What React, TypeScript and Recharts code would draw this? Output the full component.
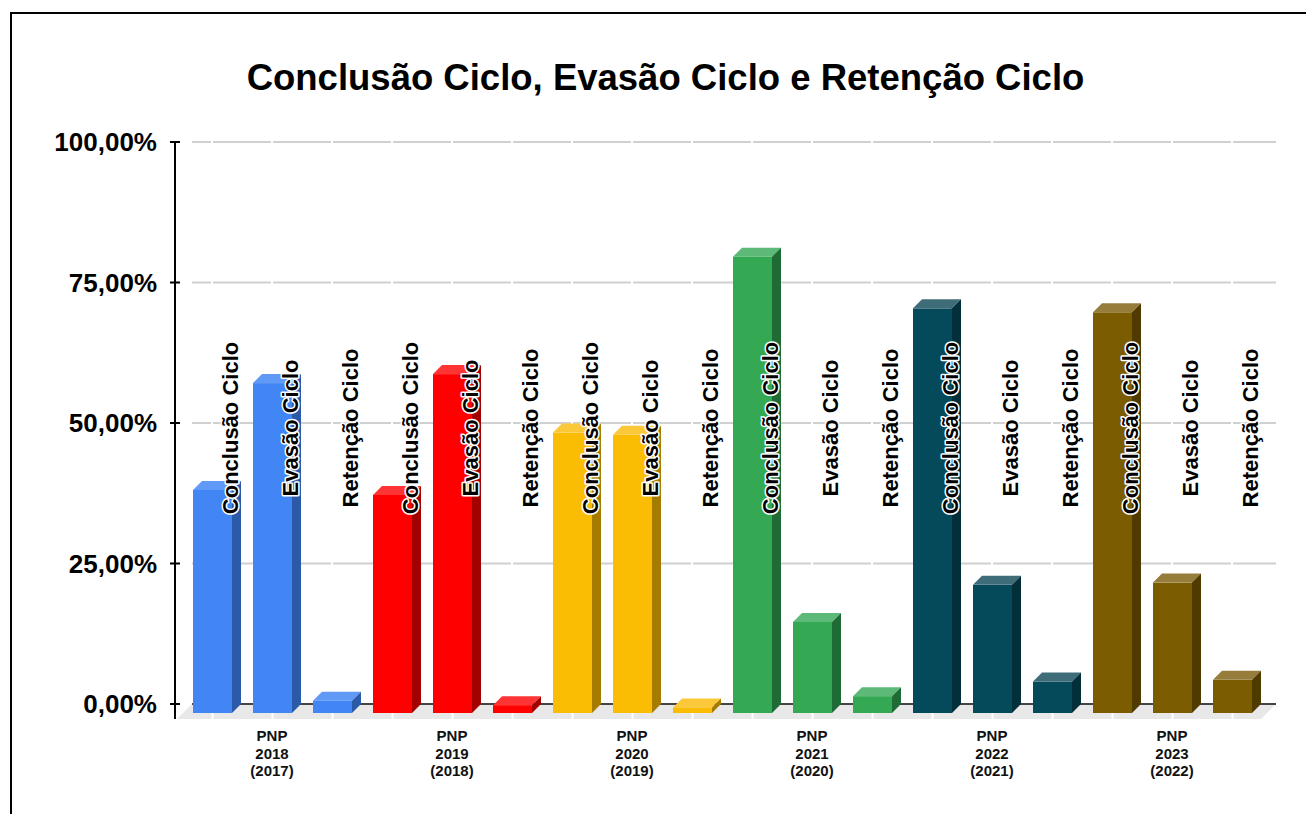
import { BarChart, Bar, XAxis, YAxis, CartesianGrid } from 'recharts'

const CATEGORIES = [
  'PNP\n2018\n(2017)',
  'PNP\n2019\n(2018)',
  'PNP\n2020\n(2019)',
  'PNP\n2021\n(2020)',
  'PNP\n2022\n(2021)',
  'PNP\n2023\n(2022)',
]
const CONCLUSAO = [39.7, 38.8, 49.9, 81.2, 72.0, 71.3]
const EVASAO = [58.7, 60.3, 49.5, 16.2, 22.8, 23.2]
const RETENCAO = [2.2, 1.4, 1.0, 3.0, 5.6, 5.9]
const Y_TICKS = [0, 25, 50, 75, 100]

// one colour per year group: front, side, top
const FRONT = ['#4285F4', '#FF0000', '#FBBC04', '#34A853', '#054A5A', '#7B5C00']
const SIDE = ['#2A5AA8', '#A30000', '#A67C00', '#1E6B35', '#032F3A', '#4F3B00']
const TOP = ['#6199F6', '#FF3535', '#FBC83A', '#5CB977', '#3F6C79', '#967D3B']

const FONT = '"Liberation Sans", Arial, sans-serif'
const W = 1306
const H = 814
const PLOT_LEFT = 175
const PLOT_TOP = 142
const PLOT_RIGHT = 1276
const PLOT_BOTTOM = 704
const DEPTH = 9

const data = CATEGORIES.map((name, i) => ({
  name,
  conclusao: CONCLUSAO[i],
  evasao: EVASAO[i],
  retencao: RETENCAO[i],
}))

function Bar3D(props: any) {
  const { x, y, width: w, height: h, index, label } = props
  if (x == null || y == null) return null
  const d = DEPTH
  const top = `${x},${y + d} ${x + d},${y} ${x + w + d},${y} ${x + w},${y + d}`
  const side = `${x + w},${y + d} ${x + w + d},${y} ${x + w + d},${y + h} ${x + w},${y + h + d}`
  const lx = x + w + 6
  const ly = (PLOT_TOP + PLOT_BOTTOM) / 2 + 5
  return (
    <g>
      <line x1={x + w / 2} x2={x + w / 2} y1={y + h + d} y2={y + h + d + 6} stroke="#fff" strokeWidth={2} />
      <rect x={x} y={y + d} width={w} height={h} fill={FRONT[index]} />
      <polygon points={top} fill={TOP[index]} />
      <polygon points={side} fill={SIDE[index]} />
      <text
        transform={`translate(${lx},${ly}) rotate(-90)`}
        textAnchor="middle"
        fontFamily={FONT}
        fontWeight="bold"
        fontSize={22}
        fill="#000"
        stroke="#fff"
        strokeWidth={3}
        strokeLinejoin="round"
        paintOrder="stroke"
      >
        {label}
      </text>
    </g>
  )
}

function GridLine(props: any) {
  const { y1, index } = props
  if (Math.abs(y1 - PLOT_BOTTOM) < 1) {
    return (
      <g key={`g-${index}`}>
        <polygon
          points={`${192},${y1} ${PLOT_RIGHT},${y1} ${PLOT_RIGHT - 15},${y1 + 15} ${177},${y1 + 15}`}
          fill="#e8e8e8"
        />
        <line x1={192} x2={PLOT_RIGHT} y1={y1} y2={y1} stroke="#444" strokeWidth={2} />
      </g>
    )
  }
  return (
    <line
      key={`g-${index}`}
      x1={192}
      x2={PLOT_RIGHT}
      y1={y1}
      y2={y1}
      stroke="#d0d0d0"
      strokeWidth={2}
      strokeDasharray="58 2"
      strokeDashoffset={39}
    />
  )
}

function YTick(props: any) {
  const { y, payload } = props
  return (
    <g>
      <line x1={PLOT_LEFT - 5} x2={PLOT_LEFT + 5} y1={y} y2={y} stroke="#000" strokeWidth={2} />
      {payload.value === 0 && (
        <line x1={PLOT_LEFT} x2={PLOT_LEFT} y1={y} y2={y + 15} stroke="#000" strokeWidth={2} />
      )}
      <text x={157} y={y} dy="0.36em" textAnchor="end" fontFamily={FONT} fontWeight="bold" fontSize={26} fill="#000">
        {`${payload.value},00%`}
      </text>
    </g>
  )
}

function XTick(props: any) {
  const { x, payload } = props
  const lines = String(payload.value).split('\n')
  return (
    <text textAnchor="middle" fontFamily={FONT} fontWeight="bold" fontSize={15} fill="#111">
      {lines.map((l, i) => (
        <tspan key={i} x={x} y={PLOT_BOTTOM + 37 + i * 17.5}>
          {l}
        </tspan>
      ))}
    </text>
  )
}

export default function App() {
  return (
    <div style={{ position: 'absolute', left: 0, top: 0, width: W, height: H, background: '#fff', overflow: 'hidden' }}>
      <div
        style={{
          position: 'absolute',
          left: 10,
          top: 12,
          width: W,
          height: H,
          borderTop: '2px solid #000',
          borderLeft: '2px solid #000',
        }}
      />
      <div
        style={{
          position: 'absolute',
          left: 0,
          top: 60,
          width: 1331,
          textAlign: 'center',
          fontFamily: FONT,
          fontWeight: 'bold',
          fontSize: 36.5,
          lineHeight: '36px',
          color: '#000',
        }}
      >
        Conclusão Ciclo, Evasão Ciclo e Retenção Ciclo
      </div>
      <div style={{ position: 'absolute', left: 0, top: 0 }}>
        <BarChart
          width={W}
          height={H}
          data={data}
          margin={{ top: PLOT_TOP, right: W - PLOT_RIGHT, bottom: 30, left: 0 }}
          barSize={39}
          barGap={21}
        >
          <CartesianGrid vertical={false} horizontal={GridLine} />
          <XAxis
            dataKey="name"
            height={H - PLOT_BOTTOM - 30}
            padding={{ left: 7, right: 14 }}
            axisLine={false}
            tickLine={false}
            tick={XTick}
            interval={0}
          />
          <YAxis
            width={PLOT_LEFT}
            domain={[0, 100]}
            ticks={Y_TICKS}
            axisLine={{ stroke: '#000', strokeWidth: 2 }}
            tickLine={false}
            tick={YTick}
          />
          <Bar dataKey="conclusao" isAnimationActive={false} shape={(p: any) => <Bar3D {...p} label="Conclusão Ciclo" />} />
          <Bar dataKey="evasao" isAnimationActive={false} shape={(p: any) => <Bar3D {...p} label="Evasão Ciclo" />} />
          <Bar dataKey="retencao" isAnimationActive={false} shape={(p: any) => <Bar3D {...p} label="Retenção Ciclo" />} />
        </BarChart>
      </div>
    </div>
  )
}
